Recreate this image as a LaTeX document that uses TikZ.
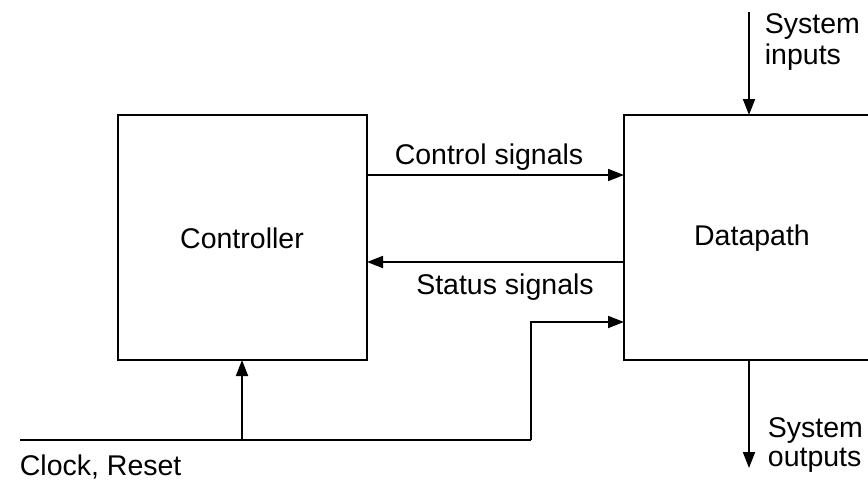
\documentclass[tikz,border=0pt]{standalone}
\usepackage{fontspec}
\setmainfont{Liberation Sans}
\usetikzlibrary{arrows.meta}
\begin{document}
\begin{tikzpicture}[x=1pt,y=-1pt,
  line width=1.8pt,
  arr/.style={-{Triangle[length=16pt,width=12pt]}},
  lbl/.style={font=\fontsize{28.5}{32}\selectfont, inner sep=0pt}]
\useasboundingbox (0,0) rectangle (868,480);
% boxes
\draw (118,115) rectangle (367,360);
\node[lbl] (ctrl) at (242,238) {Controller};
\draw (868,115) -- (624,115) -- (624,360) -- (868,360);
\node[lbl] (dp) at (752,238) {Datapath};
\coordinate (cR1) at (367,175);
\coordinate (dL1) at (624,175);
\coordinate (cR2) at (367,262);
\coordinate (dL2) at (624,262);
\coordinate (dL3) at (624,322);
\coordinate (cB) at (242,360);
\coordinate (dT) at (749,115);
\coordinate (dB) at (749,360);
\coordinate (inS) at (749,12);
\coordinate (outE) at (749,468);
\coordinate (clkS) at (20,440);
\coordinate (clkB) at (242,440);
\coordinate (clkC) at (531,440);
\coordinate (clkU) at (531,322);
% connectors
\draw[arr] (cR1) -- (dL1);
\node[lbl, anchor=base] (cs) at (489,164) {Control signals};
\draw[arr] (dL2) -- (cR2);
\node[lbl, anchor=base] (ss) at (505,294) {Status signals};
\draw[arr] (inS) -- (dT);
\node[lbl, anchor=base west] (si1) at (764,33) {System};
\node[lbl, anchor=base west] (si2) at (764,64) {inputs};
\draw[arr] (dB) -- (outE);
\node[lbl, anchor=base west] (so1) at (767,437) {System};
\node[lbl, anchor=base west] (so2) at (767,466) {outputs};
\draw (clkS) -- (clkC);
\draw[arr] (clkC) -- (clkU) -- (dL3);
\draw[arr] (clkB) -- (cB);
\node[lbl, anchor=base west] (clk) at (19,475) {Clock, Reset};
\end{tikzpicture}
\end{document}
